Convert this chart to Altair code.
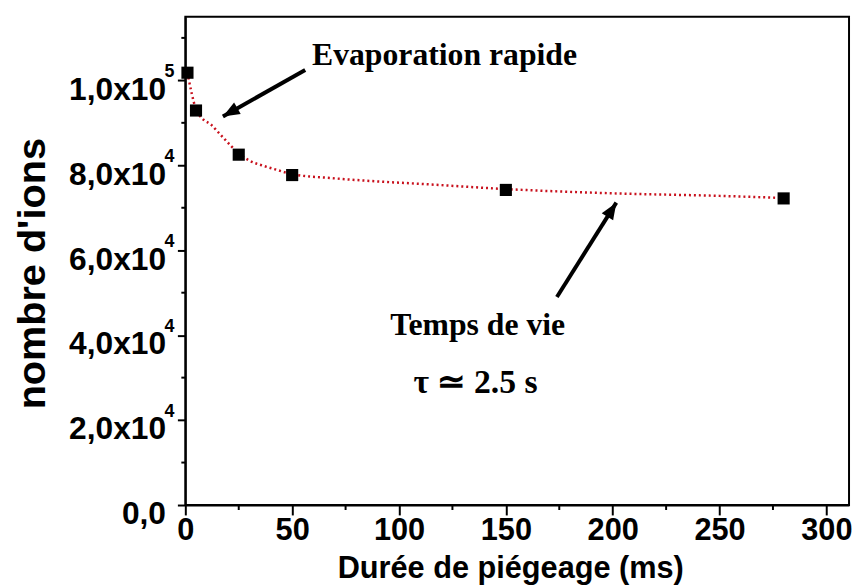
import altair as alt
import pandas as pd

# measured points
pt_x = [1, 5, 25, 50, 150, 280]
pt_y = [101800, 92900, 82500, 77700, 74200, 72200]

# fitted curve
fit_x = [1, 5, 8, 12, 15, 18.5, 21.5, 25, 30, 37, 43, 50, 68, 90, 111, 150, 200, 250, 280]
fit_y = [101800, 93200, 91000, 89600, 88000, 86100, 84500, 82800, 81100, 79800, 78900,
         77900, 77000, 76200, 75600, 74400, 73400, 72800, 72300]

y_ticks = [0, 20000, 40000, 60000, 80000, 100000]
y_tick_labels = ["0,0", "2,0x10", "4,0x10", "6,0x10", "8,0x10", "1,0x10"]
y_sup_values = [20000, 40000, 60000, 80000, 100000]
y_sup_labels = ["4", "4", "4", "4", "5"]
y_minor = [10000, 30000, 50000, 70000, 90000, 110000]
x_ticks = [0, 50, 100, 150, 200, 250, 300]
x_minor = [25, 75, 125, 175, 225, 275]

# annotations (data units)
arrow_x = [56.1, 173.9]
arrow_y = [102460, 49000]
arrow_x2 = [17.6, 201.7]
arrow_y2 = [91500, 71200]
arrow_angle = [240.5, 32.3]

ann_text = ["Evaporation rapide", "Temps de vie", "τ ≃ 2.5 s"]
ann_x = [59.3, 136.8, 135.8]
ann_y = [103600, 40150, 26400]
ann_size = [32, 32, 34]
ann_align = ["left", "center", "center"]

XD = [0, 310.6]
YD = [0, 115000]

pts = pd.DataFrame({"x": pt_x, "y": pt_y})
fit = pd.DataFrame({"x": fit_x, "y": fit_y})
arrows = pd.DataFrame({"x": arrow_x, "y": arrow_y, "x2": arrow_x2, "y2": arrow_y2, "angle": arrow_angle})
sups = pd.DataFrame({"y": y_sup_values, "t": y_sup_labels})

label_map = "{" + ",".join(f"'{v}':'{l}'" for v, l in zip(y_ticks, y_tick_labels)) + "}"

xs = alt.Scale(domain=XD, nice=False, zero=False)
ys = alt.Scale(domain=YD, nice=False, zero=False)

x_axis = alt.Axis(values=x_ticks, title="Durée de piégeage (ms)", grid=False,
                  labelFont="Liberation Sans", labelFontWeight="bold", labelFontSize=31,
                  labelColor="black", labelPadding=1, tickSize=10, tickWidth=2,
                  tickColor="black", domainColor="black", domainWidth=2,
                  titleFont="Liberation Sans", titleFontWeight="bold", titleFontSize=31,
                  titleColor="black", titleX=328, titleY=73, titleBaseline="alphabetic",
                  titleAlign="center", labelFlush=False, labelOverlap=False)
y_axis = alt.Axis(values=y_ticks, title="nombre d'ions", grid=False,
                  labelExpr=f"{label_map}[datum.value]",
                  labelFont="Liberation Sans", labelFontWeight="bold", labelFontSize=32,
                  labelColor="black", labelPadding=12, labelOffset=9, tickSize=8, tickWidth=2,
                  tickColor="black", domainColor="black", domainWidth=2,
                  titleFont="Liberation Sans", titleFontWeight="bold", titleFontSize=40,
                  titleColor="black", titleX=-142, titleY=259, titleAngle=270,
                  titleBaseline="alphabetic", titleAlign="center", labelFlush=False,
                  labelOverlap=False)

line = alt.Chart(fit).mark_line(color="#c8101c", strokeDash=[2, 3], strokeWidth=2.5,
                                interpolate="monotone").encode(
    x=alt.X("x:Q", scale=xs, axis=x_axis),
    y=alt.Y("y:Q", scale=ys, axis=y_axis),
)

points = alt.Chart(pts).mark_point(shape="square", filled=True, color="black", size=150,
                                   opacity=1).encode(
    x=alt.X("x:Q", scale=xs), y=alt.Y("y:Q", scale=ys))

sup_text = alt.Chart(sups).mark_text(font="Liberation Sans", fontWeight="bold", fontSize=18,
                                     align="left", baseline="alphabetic", color="black",
                                     dy=-3).encode(
    y=alt.Y("y:Q", scale=ys), x=alt.value(-21), text="t:N")

ymin = alt.Chart(pd.DataFrame({"y": y_minor})).mark_rule(color="black", strokeWidth=2).encode(
    y=alt.Y("y:Q", scale=ys), x=alt.value(-4), x2=alt.value(0))
xmin = alt.Chart(pd.DataFrame({"x": x_minor})).mark_rule(color="black", strokeWidth=2).encode(
    x=alt.X("x:Q", scale=xs), y=alt.value(493), y2=alt.value(498))

arrow_lines = alt.Chart(arrows).mark_rule(color="black", strokeWidth=4).encode(
    x=alt.X("x:Q", scale=xs), y=alt.Y("y:Q", scale=ys), x2="x2:Q", y2="y2:Q")
arrow_heads = alt.Chart(arrows).mark_point(
    shape="M0,0L0.85,2.1L-0.85,2.1Z", filled=True, color="black", size=256, opacity=1
).encode(x=alt.X("x2:Q", scale=xs), y=alt.Y("y2:Q", scale=ys),
         angle=alt.Angle("angle:Q", scale=None))

texts = []
for t, xx, yy, sz, al in zip(ann_text, ann_x, ann_y, ann_size, ann_align):
    texts.append(alt.Chart(pd.DataFrame({"x": [xx], "y": [yy], "t": [t]})).mark_text(
        font="Liberation Serif", fontWeight="bold", fontSize=sz, align=al,
        baseline="alphabetic", color="black").encode(
        x=alt.X("x:Q", scale=xs), y=alt.Y("y:Q", scale=ys), text="t:N"))

chart = alt.layer(line, points, sup_text, ymin, xmin, arrow_lines, arrow_heads, *texts).properties(
    width=670, height=493,
    autosize=alt.AutoSizeParams(type="none"),
    padding={"left": 179, "top": 6, "right": 3, "bottom": 79},
    background="white",
).configure_view(stroke="black", strokeWidth=2)

chart.save("out.html", embed_options={"renderer": "svg", "actions": False})
